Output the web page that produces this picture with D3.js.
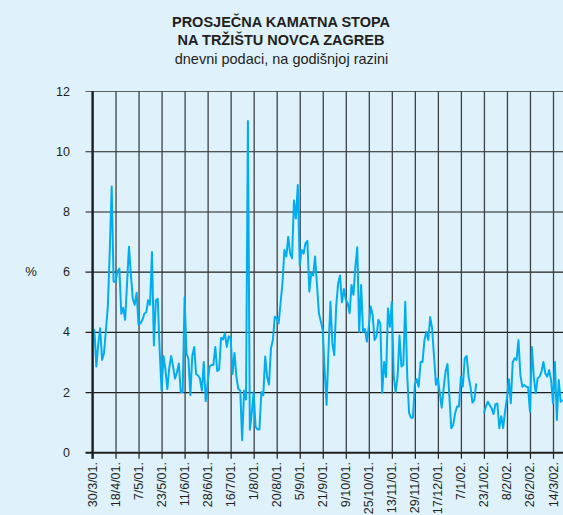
<!DOCTYPE html>
<html>
<head>
<meta charset="utf-8">
<script src="https://cdn.jsdelivr.net/npm/d3@7"></script>
<style>
  html, body { margin: 0; padding: 0; background: #dff1fb; }
  svg { display: block; }
</style>
</head>
<body>
<svg id="chart" width="563" height="515"></svg>
<script>
// ---------- DATA ----------
const titleLines = ["PROSJEČNA KAMATNA STOPA", "NA TRŽIŠTU NOVCA ZAGREB"];
const subtitle = "dnevni podaci, na godišnjoj razini";
const yLabel = "%";
const yTicks = [0, 2, 4, 6, 8, 10, 12];
// tick labels, one every 12 business days
const categories = ["30/3/01.", "18/4/01.", "7/5/01.", "23/5/01.", "11/6/01.", "28/6/01.", "16/7/01.",
  "1/8/01.", "20/8/01.", "5/9/01.", "21/9/01.", "9/10/01.", "25/10/01.", "13/11/01.", "29/11/01.",
  "17/12/01.", "7/1/02.", "23/1/02.", "8/2/02.", "26/2/02.", "14/3/02."];
const daysPerLabel = 12;
// daily rate, % (null = no data)
const rates = [
  4.12, 4.05, 2.85, 3.6, 4.12, 3.07, 3.3, 4.06, 4.85, 6.7, 8.83, 5.67, 5.65,
  6.0, 6.1, 4.6, 4.8, 4.4, 5.6, 6.83, 5.9, 5.1, 4.9, 5.3, 4.25,
  4.28, 4.4, 4.6, 4.65, 5.05, 4.9, 6.65, 3.55, 5.05, 5.1, 3.4, 2.05,
  3.2, 2.75, 2.1, 2.8, 3.2, 2.85, 2.45, 2.65, 2.95, 2.0, 2.0, 5.15,
  3.3, 3.1, 1.9, 3.2, 3.5, 2.6, 2.55, 2.45, 2.05, 3.0, 1.7, 2.3,
  2.85, 2.9, 2.9, 3.5, 2.7, 2.75, 3.8, 3.75, 3.95, 3.5, 3.85, 3.8,
  2.6, 3.3, 2.5, 2.1, 2.05, 0.4, 2.05, 1.75, 11.0, 0.75, 1.3, 2.0,
  0.85, 0.76, 0.76, 2.0, 1.9, 3.18, 2.5, 2.25, 3.45, 3.73, 4.5, 4.45,
  4.28, 4.95, 5.6, 6.72, 6.5, 7.16, 6.6, 6.45, 8.36, 7.77, 8.88, 6.22,
  6.72, 6.6, 6.94, 7.02, 5.34, 5.95, 5.87, 6.5, 5.56, 4.62, 4.34, 4.06,
  2.73, 1.57, 3.4, 5.0, 3.62, 3.23, 4.84, 5.6, 5.87, 4.98, 5.42, 5.08,
  4.95, 4.62, 5.56, 5.23, 6.17, 6.81, 4.0, 5.56, 4.0, 4.09, 3.68, 4.17,
  4.84, 4.56, 3.73, 3.84, 4.4, 4.28, 1.98, 3.0, 2.5, 4.78, 4.17, 5.0,
  2.51, 2.0, 2.51, 3.88, 2.85, 2.9, 5.0, 2.6, 1.3, 1.15, 1.15, 2.25,
  2.43, 2.18, 3.0, 3.0, 3.73, 4.0, 3.73, 4.49, 4.12, 3.18, 2.24, 2.46,
  1.96, 1.48, 2.13, 2.68, 2.93, 1.85, 0.8, 0.91, 1.3, 1.52, 1.52, 2.51,
  2.18, 3.12, 3.2, 2.51, 2.18, 1.65, 1.74, 2.29, null, null, null, 1.3,
  1.52, 1.68, 1.57, 1.46, 1.27, 1.6, 1.62, 0.8, 1.2, 0.8, 1.35, 1.8,
  2.43, 1.63, 2.99, 3.12, 3.07, 3.73, 2.57, 2.18, 2.24, 2.18, 2.16, 1.35,
  3.5, 2.5, 1.96, 2.46, 2.51, 2.68, 3.0, 2.62, 2.51, 2.73, 2.4, 1.63,
  3.0, 1.07, 2.4, 1.68, 1.74
];

// ---------- LAYOUT ----------
const W = 563, H = 515;
const plotLeft = 92.5, plotRight = 563, plotTop = 91, plotBottom = 452.3;
const svg = d3.select("#chart");
const FONT = "'Liberation Sans', Arial, Helvetica, sans-serif";

const lastLabelIdx = (categories.length - 1) * daysPerLabel;
const x = d3.scaleLinear().domain([0, lastLabelIdx]).range([plotLeft, 553]);
const y = d3.scaleLinear().domain([0, 12]).range([plotBottom, plotTop]);

// title
const title = svg.append("g").attr("font-family", FONT).attr("fill", "#231f20").attr("text-anchor", "middle");
title.selectAll("text.t").data(titleLines).join("text")
  .attr("class", "t")
  .attr("x", 281).attr("y", (d, i) => 26.5 + i * 18)
  .attr("font-size", "14.5px").attr("font-weight", "bold")
  .text(d => d);
title.append("text").attr("x", 281.5).attr("y", 63.5)
  .attr("font-size", "14.5px").text(subtitle);

// clip
svg.append("clipPath").attr("id", "clip").append("rect")
  .attr("x", 0).attr("y", 0).attr("width", W).attr("height", H);

const grid = svg.append("g").attr("clip-path", "url(#clip)");

// horizontal gridlines (y axis with long ticks)
const yAxis = d3.axisLeft(y).tickValues(yTicks).tickSize(-(plotRight - plotLeft + 7)).tickPadding(0).tickFormat("");
const yg = grid.append("g").attr("transform", `translate(${plotLeft - 7},0)`).call(yAxis);
yg.select(".domain").remove();
yg.selectAll(".tick line")
  .attr("stroke", d => d === 12 ? "#5b6065" : "#1e1e1e")
  .attr("stroke-width", d => d === 0 ? 2 : 1.1);

// vertical gridlines (x axis)
const xTickVals = categories.map((c, i) => i * daysPerLabel);
const xAxis = d3.axisBottom(x).tickValues(xTickVals).tickSize(-(plotBottom - plotTop)).tickFormat("");
const xg = grid.append("g").attr("transform", `translate(0,${plotBottom})`).call(xAxis);
xg.select(".domain").remove();
xg.selectAll(".tick line").attr("stroke", "#3d4247").attr("stroke-width", 1.3);
// small ticks below axis
xg.selectAll(".tick").append("line")
  .attr("y1", 0).attr("y2", 6.5).attr("stroke", "#1e1e1e").attr("stroke-width", 1.2);

// left axis line
svg.append("line").attr("x1", plotLeft).attr("x2", plotLeft)
  .attr("y1", plotTop).attr("y2", plotBottom + 6.5)
  .attr("stroke", "#1e1e1e").attr("stroke-width", 2.2);

// y tick labels
svg.append("g").attr("font-family", FONT).attr("font-size", "12.5px").attr("fill", "#231f20")
  .selectAll("text").data(yTicks).join("text")
  .attr("x", 70).attr("y", d => y(d)).attr("dy", "0.36em").attr("text-anchor", "end")
  .text(d => d);

// % label
svg.append("text").attr("x", 31).attr("y", y(6)).attr("dy", "0.36em")
  .attr("font-family", FONT).attr("font-size", "13px").attr("fill", "#231f20")
  .attr("text-anchor", "middle").text(yLabel);

// x tick labels (rotated)
svg.append("g").attr("font-family", FONT).attr("font-size", "12.5px").attr("fill", "#231f20")
  .selectAll("text").data(categories).join("text")
  .attr("transform", (d, i) => `translate(${x(i * daysPerLabel)},462) rotate(-90)`)
  .attr("text-anchor", "end").attr("dy", "0.36em")
  .text(d => d);

// series line
const line = d3.line()
  .defined(d => d != null)
  .x((d, i) => x(i))
  .y(d => y(d));
grid.append("path")
  .datum(rates)
  .attr("fill", "none")
  .attr("stroke", "#00aeef")
  .attr("stroke-width", 2)
  .attr("stroke-linejoin", "round")
  .attr("d", line);
</script>
</body>
</html>
